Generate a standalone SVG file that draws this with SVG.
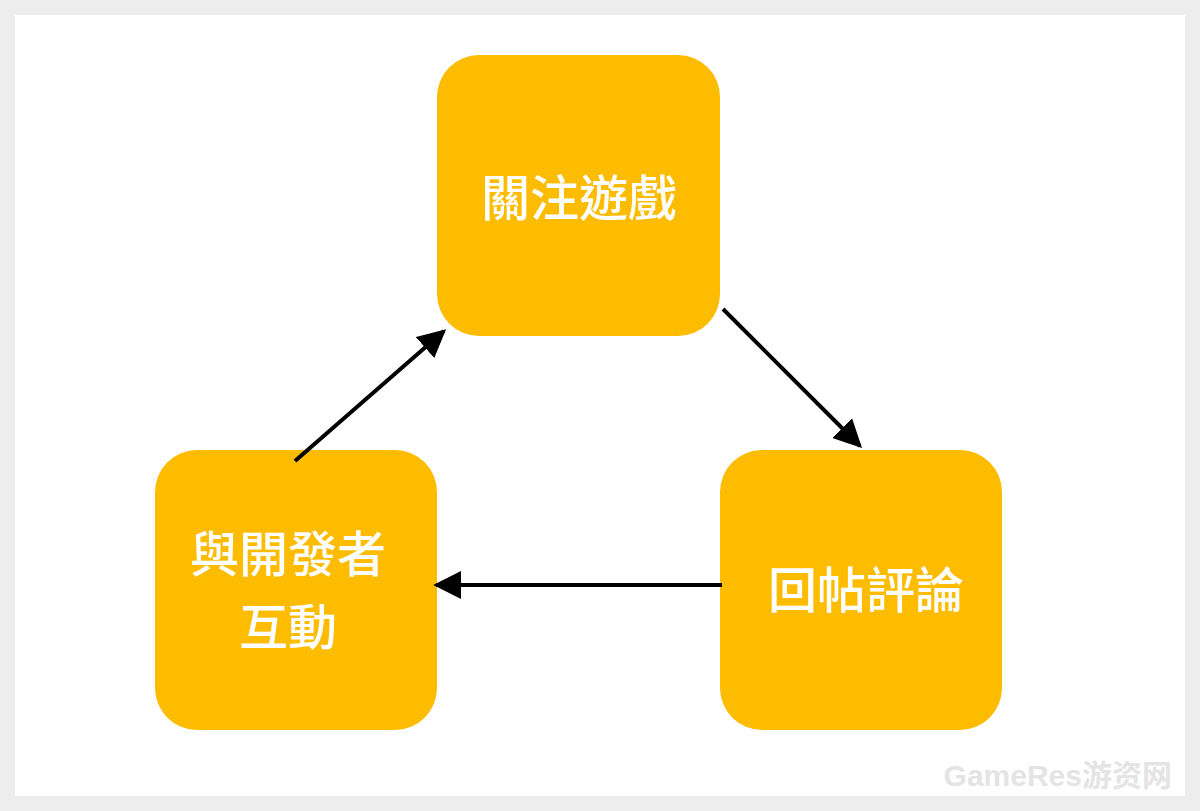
<svg xmlns="http://www.w3.org/2000/svg" width="1200" height="811" viewBox="0 0 1200 811">
<style>
.n{fill:#FDBC00}
.t{font-family:"Noto Sans CJK TC","Noto Sans CJK SC",sans-serif;font-weight:500;font-size:49px;fill:#fff;text-anchor:middle}
.c{stroke:#000;stroke-width:4;fill:none;marker-end:url(#a)}
</style>
<defs><marker id="a" viewBox="0 0 10 10" refX="9" refY="5" markerWidth="7" markerHeight="7" orient="auto" markerUnits="strokeWidth"><path d="M0,0L10,5L0,10z" fill="#000"/></marker></defs>
<rect width="1200" height="811" fill="#EDEDED"/>
<rect x="15" y="15" width="1170" height="781" fill="#fff"/>
<g id="n1"><rect class="n" x="437" y="55" width="283" height="281" rx="42"/><text class="t" x="579" y="216">關注遊戲</text></g>
<g id="n2"><rect class="n" x="720" y="450" width="282" height="280" rx="42"/><text class="t" x="866" y="608">回帖評論</text></g>
<g id="n3"><rect class="n" x="155" y="450" width="282" height="280" rx="42"/><text class="t" x="288" y="572">與開發者</text><text class="t" x="288" y="645">互動</text></g>
<g id="connectors">
<path class="c" d="M295,461L444,331"/>
<path class="c" d="M723,309L860,446"/>
<path class="c" d="M722,585L436,585"/>
</g>
<text x="1172" y="786" font-family="Liberation Sans,Noto Sans CJK SC,sans-serif" font-size="30" font-weight="bold" fill="#E4E4E4" text-anchor="end">GameRes游资网</text>
</svg>
